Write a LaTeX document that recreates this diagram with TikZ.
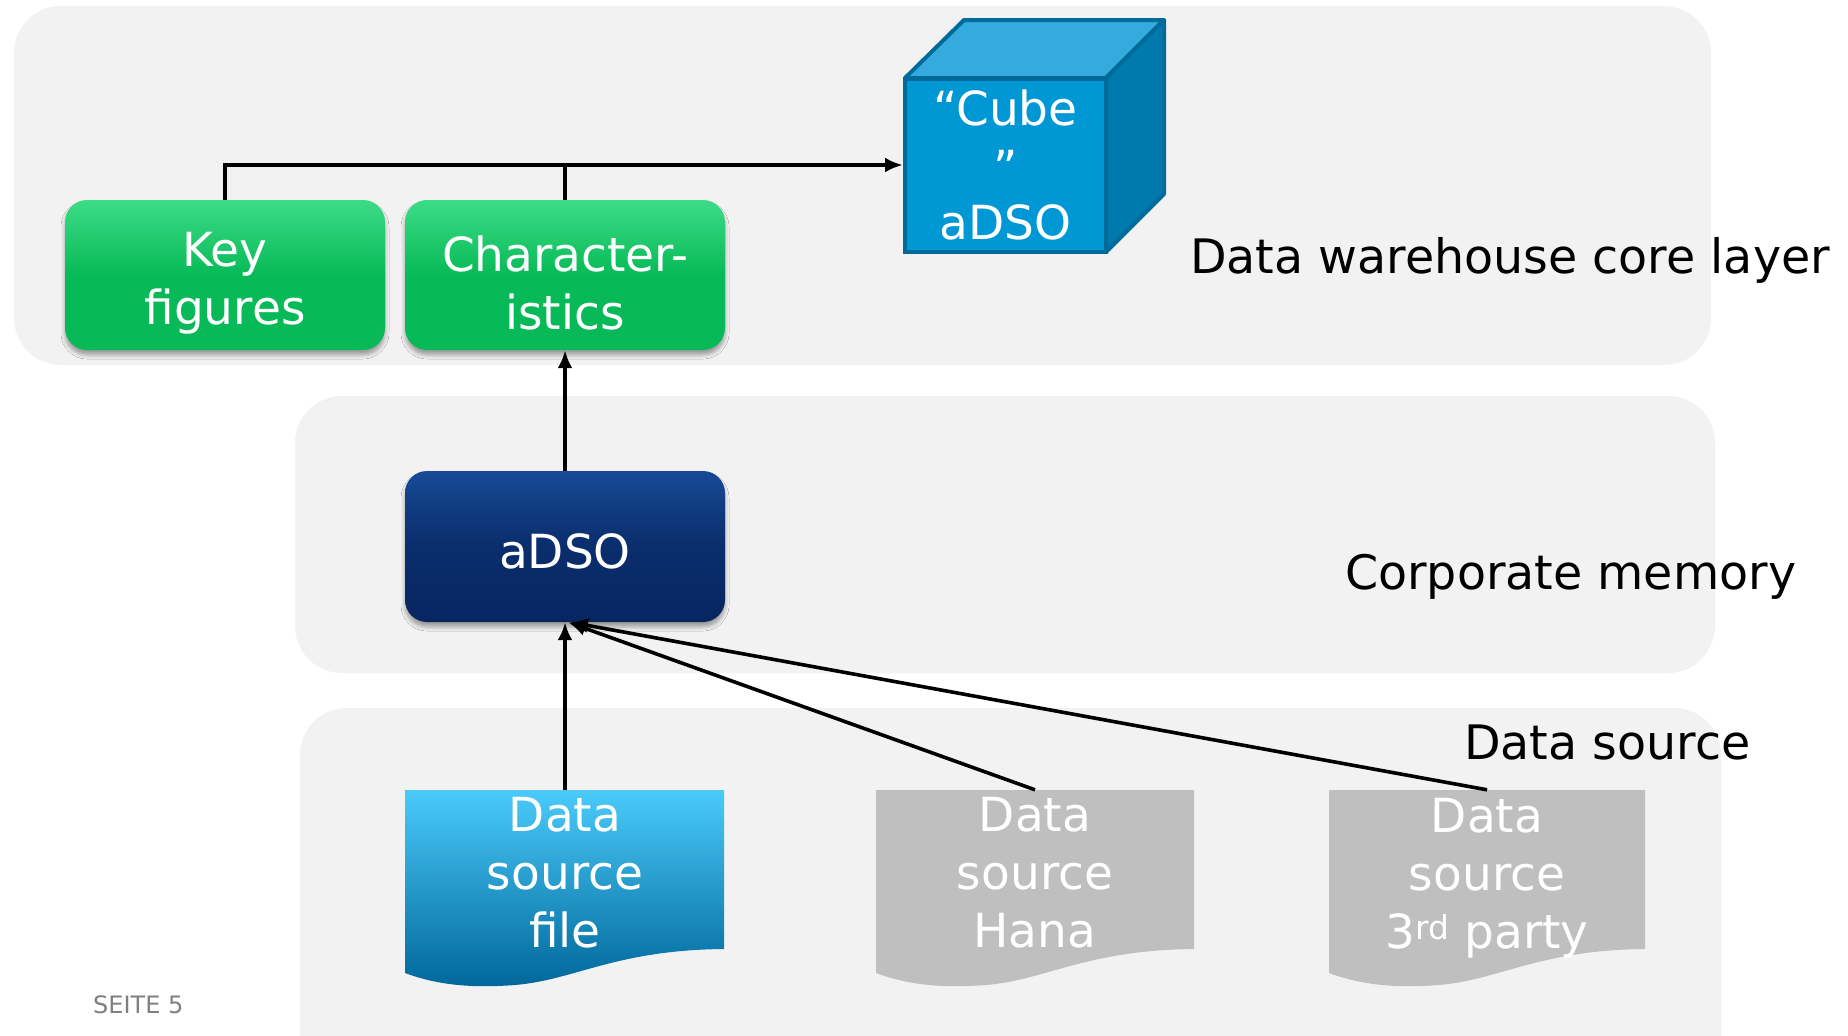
\documentclass[tikz,border=0pt]{standalone}
\usepackage{fontspec}
\setmainfont{DejaVu Sans}
\usetikzlibrary{arrows.meta,shadows.blur,calc}
\definecolor{panel}{HTML}{F2F2F2}
\definecolor{gA}{HTML}{3CDC86}
\definecolor{gB}{HTML}{08BA57}
\definecolor{nA}{HTML}{174A96}
\definecolor{nB}{HTML}{072661}
\definecolor{cfront}{HTML}{0098D4}
\definecolor{ctop}{HTML}{35ABDD}
\definecolor{cside}{HTML}{0079AC}
\definecolor{cedge}{HTML}{006B9B}
\definecolor{fA}{HTML}{4ACBFA}
\definecolor{fB}{HTML}{00669A}
\definecolor{docgray}{HTML}{BFBFBF}
\definecolor{seite}{HTML}{808080}
\tikzset{
  panelbox/.style={fill=panel, rounded corners=47pt},
  bigtext/.style={font=\fontsize{47}{58}\selectfont, text=white, align=center},
  greenbox/.style={bigtext, minimum width=320pt, minimum height=150pt, rounded corners=22pt,
     top color=gA, bottom color=gB, middle color=gB,
     blur shadow={shadow xshift=0pt, shadow yshift=-5pt, shadow opacity=35, shadow blur radius=4pt}},
  navybox/.style={bigtext, minimum width=320pt, minimum height=151pt, rounded corners=22pt,
     top color=nA, bottom color=nB, middle color=nB!80!nA,
     blur shadow={shadow xshift=0pt, shadow yshift=-5pt, shadow opacity=35, shadow blur radius=4pt}},
  cubefront/.style={bigtext, minimum width=201pt, minimum height=173pt, fill=cfront, draw=cedge, line width=4pt, inner sep=0pt},
  docnode/.style={minimum width=320pt, minimum height=159pt, inner sep=0pt},
  doctext/.style={bigtext},
  lbl/.style={font=\fontsize{47.5}{57}\selectfont, text=black, anchor=west, inner sep=0pt},
  conn/.style={line width=3.6pt, draw=black},
  arr/.style={conn, -{Latex[length=18pt,width=15pt]}},
}
\newcommand{\mydoc}[3]{%
  \path[#3] (#1,790) -- (#2,790) -- (#2,949)
    .. controls ({#1+210},950) and ({#1+170},980) .. ({#1+110},985)
    .. controls ({#1+70},988) and ({#1+35},986) .. (#1,973) -- cycle;}
\begin{document}
\begin{tikzpicture}[x=1pt,y=-1pt]
\clip (0,0) rectangle (1848,1036);
\fill[white] (0,0) rectangle (1848,1036);
% panels
\path[panelbox] (14,6) rectangle (1711,365);
\path[panelbox] (295,396) rectangle (1715,673);
\path[panelbox] (300,708) rectangle (1721,1090);
% layer labels
\node[lbl] (lcore) at (1190,260) {Data warehouse core layer};
\node[lbl] (lcorp) at (1345,577) {Corporate memory};
\node[lbl] (lsrc) at (1464,743) {Data source};
\node[font=\fontsize{24}{28}\selectfont, text=seite, anchor=west, inner sep=0pt] (page) at (93,1005) {SEITE 5};
% cube
\path[fill=ctop, draw=cedge, line width=4pt, line join=round] (905,78) -- (964,20) -- (1164,20) -- (1106,78) -- cycle;
\path[fill=cside, draw=cedge, line width=4pt, line join=round] (1106,78) -- (1164,20) -- (1164,194) -- (1106,252) -- cycle;
\node[cubefront] (cube) at (1005.5,165) {};
\node[bigtext] (cubet) at (1005.5,165) {“Cube\\[1pt]”\\[-3pt]aDSO};
% green boxes
\node[greenbox] (kf) at (225,275) {};
\node[greenbox] (ch) at (565,275) {};
\node[bigtext] (kft) at (225,283) {Key\\figures};
\node[bigtext] (cht) at (565,283) {Character-\\istics};
% aDSO
\node[navybox] (adso) at (565,546.5) {};
\node[bigtext] (adsot) at (565,551) {aDSO};
% documents
\mydoc{405}{724}{top color=fA, bottom color=fB}
\mydoc{876}{1194}{fill=docgray}
\mydoc{1329}{1645}{fill=docgray}
\node[docnode] (file) at (565,869.5) {};
\node[docnode] (hana) at (1035,869.5) {};
\node[docnode] (third) at (1487,869.5) {};
\node[doctext] (filet) at (565,873) {Data\\source\\file};
\node[doctext] (hanat) at (1035,873) {Data\\source\\Hana};
\node[doctext] (thirdt) at (1487,878) {Data\\source\\3\smash{\textsuperscript{rd}} party};
% connectors
\draw[arr] (kf.north) |- (cube.west);
\draw[conn] (ch.north) -- (ch.north |- cube.west);
\draw[arr] (adso.north) -- (ch.south);
\draw[arr] (file.north) -- (adso.south);
\draw[arr] (hana.north) -- ([xshift=3pt]adso.south);
\draw[arr] (third.north) -- ([xshift=5pt]adso.south);
\end{tikzpicture}
\end{document}
